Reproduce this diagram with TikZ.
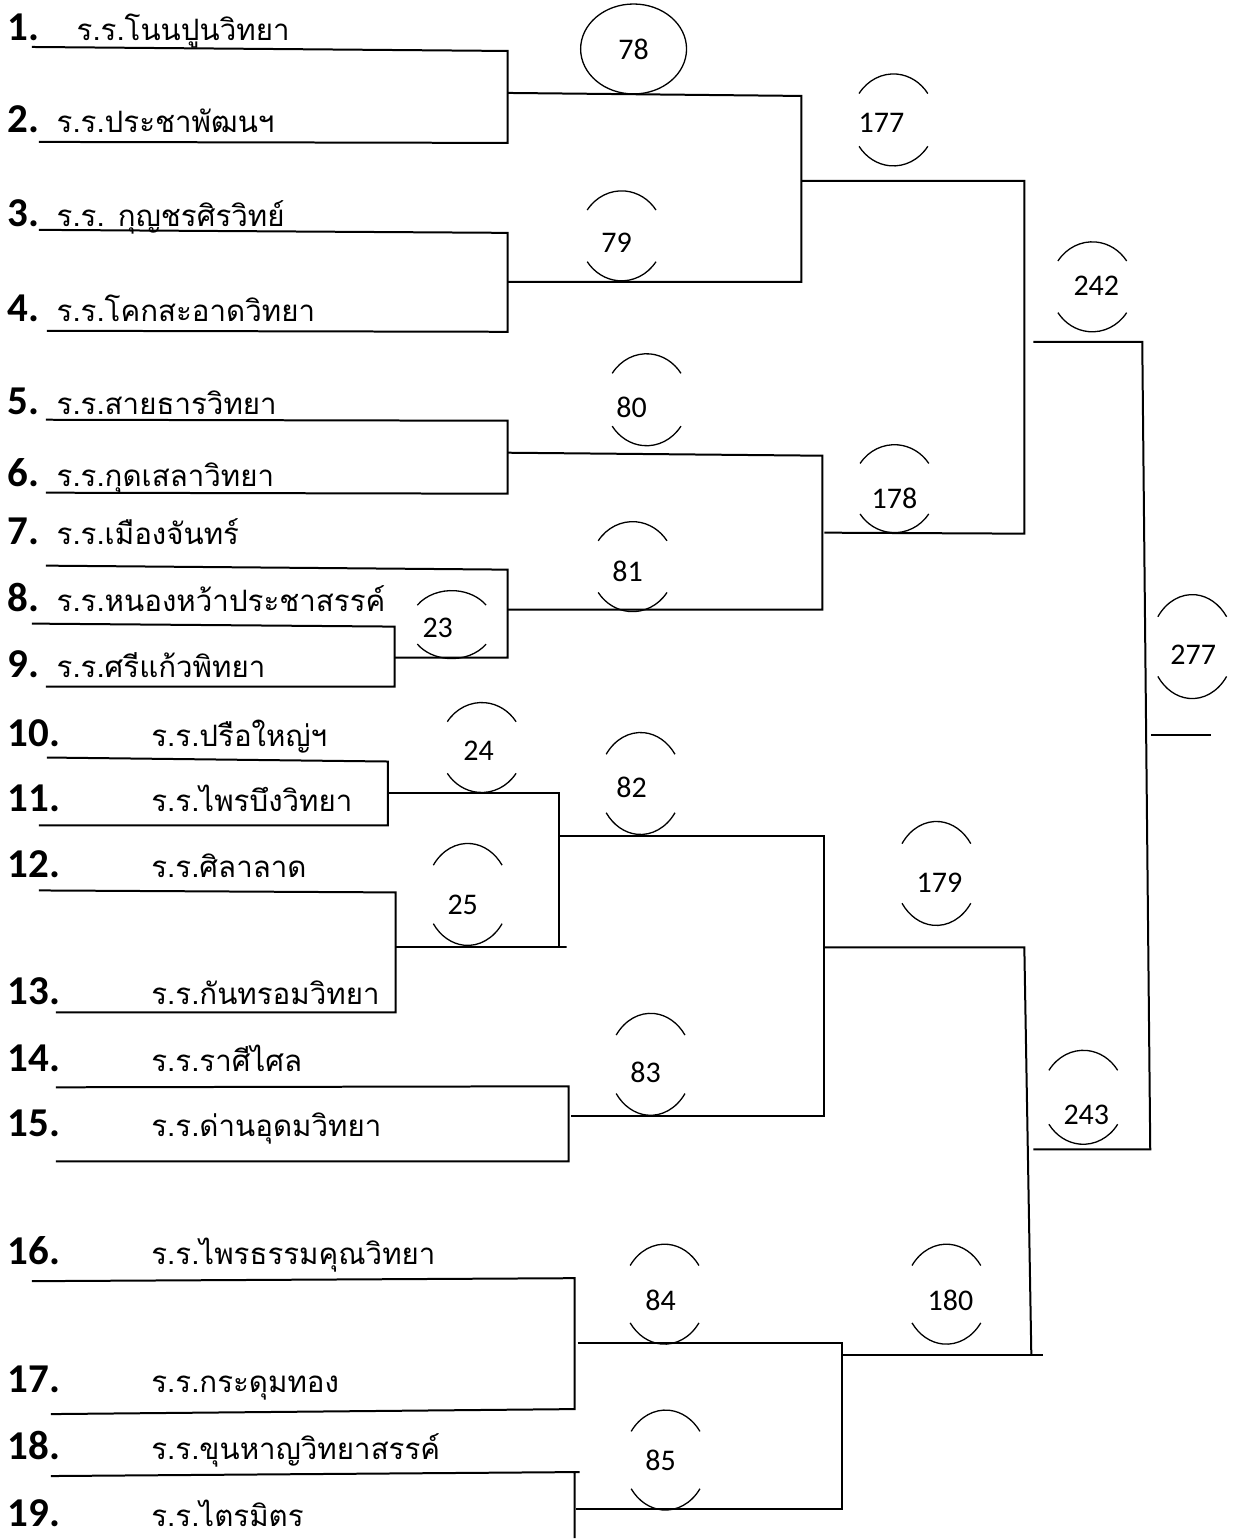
\documentclass[tikz,border=0pt]{standalone}
\usepackage{fontspec}
\setmainfont{Carlito}
\newfontfamily\thaifont[Script=Thai]{Loma}
\usetikzlibrary{positioning,calc,shapes.geometric}
\tikzset{
  base/.style={inner sep=0pt, outer sep=0pt, text=black},
  seed/.style={base, anchor=base west, font=\bfseries\fontsize{41}{46}\selectfont},
  school/.style={base, font=\thaifont\fontsize{29.5}{34}\selectfont},
  score/.style={base, font=\fontsize{30}{34}\selectfont},
  line/.style={draw=black, line width=2pt},
  arcline/.style={draw=black, line width=1.3pt},
  ring/.style n args={3}{append after command={\pgfextra{
    \draw[arcline] ($(\tikzlastnode.center)+({#2+34.4},{#3+0.574*#1})$) arc[start angle=35, end angle=145, x radius=42, y radius=#1];
    \draw[arcline] ($(\tikzlastnode.center)+({#2-34.4},{#3-0.574*#1})$) arc[start angle=215, end angle=325, x radius=42, y radius=#1];
  }}}
}

\begin{document}
\begin{tikzpicture}[x=1pt, y=-1pt]
  \path[fill=white] (0,0) rectangle (1240,1539);

  % Seeds and schools
  \node[seed] (n1) at (8,41) {1.};
  \node[school, base right=37pt of n1] (s1) {ร.ร.โนนปูนวิทยา};
  \node[seed] (n2) at (8,133) {2.};
  \node[school, base right=17pt of n2] (s2) {ร.ร.ประชาพัฒนฯ};
  \node[seed] (n3) at (8,227) {3.};
  \node[school, base right=17pt of n3] (s3) {ร.ร. กุญชรศิรวิทย์};
  \node[seed] (n4) at (8,322) {4.};
  \node[school, base right=17pt of n4] (s4) {ร.ร.โคกสะอาดวิทยา};
  \node[seed] (n5) at (8,415) {5.};
  \node[school, base right=17pt of n5] (s5) {ร.ร.สายธารวิทยา};
  \node[seed] (n6) at (8,487) {6.};
  \node[school, base right=17pt of n6] (s6) {ร.ร.กุดเสลาวิทยา};
  \node[seed] (n7) at (8,545) {7.};
  \node[school, base right=17pt of n7] (s7) {ร.ร.เมืองจันทร์};
  \node[seed] (n8) at (8,612) {8.};
  \node[school, base right=17pt of n8] (s8) {ร.ร.หนองหว้าประชาสรรค์};
  \node[seed] (n9) at (8,678) {9.};
  \node[school, base right=17pt of n9] (s9) {ร.ร.ศรีแก้วพิทยา};
  \node[seed] (n10) at (8,747) {10.};
  \node[school, base right=91pt of n10] (s10) {ร.ร.ปรือใหญ่ฯ};
  \node[seed] (n11) at (8,812) {11.};
  \node[school, base right=91pt of n11] (s11) {ร.ร.ไพรบึงวิทยา};
  \node[seed] (n12) at (8,878) {12.};
  \node[school, base right=91pt of n12] (s12) {ร.ร.ศิลาลาด};
  \node[seed] (n13) at (8,1005) {13.};
  \node[school, base right=91pt of n13] (s13) {ร.ร.กันทรอมวิทยา};
  \node[seed] (n14) at (8,1072) {14.};
  \node[school, base right=91pt of n14] (s14) {ร.ร.ราศีไศล};
  \node[seed] (n15) at (8,1137) {15.};
  \node[school, base right=91pt of n15] (s15) {ร.ร.ด่านอุดมวิทยา};
  \node[seed] (n16) at (8,1265) {16.};
  \node[school, base right=91pt of n16] (s16) {ร.ร.ไพรธรรมคุณวิทยา};
  \node[seed] (n17) at (8,1393) {17.};
  \node[school, base right=91pt of n17] (s17) {ร.ร.กระดุมทอง};
  \node[seed] (n18) at (8,1460) {18.};
  \node[school, base right=91pt of n18] (s18) {ร.ร.ขุนหาญวิทยาสรรค์};
  \node[seed] (n19) at (8,1527) {19.};
  \node[school, base right=91pt of n19] (s19) {ร.ร.ไตรมิตร};

  % Scores
  \node[score, ellipse, arcline, minimum width=106, minimum height=90] (w78) at (634,49) {78};
  \node[score, ring={45}{5}{-7}] (w79) at (617,243) {79};
  \node[score, ring={46}{15}{-8}] (w80) at (632,408) {80};
  \node[score, ring={45}{5}{-5}] (w81) at (628,572) {81};
  \node[score, ring={34}{14}{-3}] (w23) at (438,628) {23};
  \node[score, ring={45}{3}{-3}] (w24) at (479,751) {24};
  \node[score, ring={51}{5}{-10}] (w25) at (463,905) {25};
  \node[score, ring={51}{9}{-4}] (w82) at (632,788) {82};
  \node[score, ring={51}{5}{-8}] (w83) at (646,1073) {83};
  \node[score, ring={50}{4}{-6}] (w84) at (661,1301) {84};
  \node[score, ring={50}{5}{0}] (w85) at (661,1461) {85};
  \node[score, ring={46}{12}{-3}] (w177) at (882,123) {177};
  \node[score, ring={44}{0}{-10}] (w178) at (895,499) {178};
  \node[score, ring={52}{-3}{-9}] (w179) at (940,883) {179};
  \node[score, ring={50}{-4}{-6}] (w180) at (951,1301) {180};
  \node[score, ring={45}{-4}{1}] (w242) at (1097,286) {242};
  \node[score, ring={47}{-3}{-18}] (w243) at (1087,1116) {243};
  \node[score, ring={52}{-1}{-8}] (w277) at (1194,655) {277};

  % Line ends
  \coordinate (a1) at (32,47);    \coordinate (b1) at (508,51);
  \coordinate (a2) at (39,142);   \coordinate (b2) at (508,143);
  \coordinate (a3) at (39,230);   \coordinate (b3) at (508,233);
  \coordinate (a4) at (47,331);   \coordinate (b4) at (508,332);
  \coordinate (a5) at (46,420);   \coordinate (b5) at (508,421);
  \coordinate (a6) at (46,493);   \coordinate (b6) at (508,494);
  \coordinate (a7) at (46,566);   \coordinate (b7) at (508,570);
  \coordinate (a8) at (32,624);   \coordinate (b8) at (395,627);
  \coordinate (a9) at (46,687);   \coordinate (b9) at (395,687);
  \coordinate (a10) at (47,758);  \coordinate (b10) at (388,762);
  \coordinate (a11) at (39,826);  \coordinate (b11) at (388,826);
  \coordinate (a12) at (39,891);  \coordinate (b12) at (396,893);
  \coordinate (a13) at (56,1013); \coordinate (b13) at (396,1013);
  \coordinate (a14) at (56,1088); \coordinate (b14) at (569,1087);
  \coordinate (a15) at (56,1162); \coordinate (b15) at (569,1162);
  \coordinate (a16) at (32,1282); \coordinate (b16) at (575,1279);
  \coordinate (a17) at (51,1415); \coordinate (b17) at (575,1410);
  \coordinate (a18) at (51,1477); \coordinate (b18) at (580,1473);
  \coordinate (b19) at (575,1539);

  \coordinate (p78) at (508,93);    \coordinate (q78) at (802,96);
  \coordinate (p79) at (508,282);   \coordinate (q79) at (802,282);
  \coordinate (p80) at (508,453);   \coordinate (q80) at (823,456);
  \coordinate (p23) at (395,658);   \coordinate (q23) at (508,658);
  \coordinate (p81) at (508,610);   \coordinate (q81) at (823,610);
  \coordinate (p24) at (388,794);   \coordinate (q24) at (559,794);
  \coordinate (p25) at (396,948);   \coordinate (q25) at (567,948);
  \coordinate (p82) at (559,837);   \coordinate (q82) at (825,837);
  \coordinate (p83) at (571,1117);  \coordinate (q83) at (825,1117);
  \coordinate (p84) at (578,1344);  \coordinate (q84) at (843,1344);
  \coordinate (p85) at (576,1510);  \coordinate (q85) at (843,1510);
  \coordinate (p177) at (802,181);  \coordinate (q177) at (1025,181);
  \coordinate (p178) at (825,533);  \coordinate (q178) at (1025,534);
  \coordinate (p179) at (825,948);  \coordinate (q179) at (1025,948);
  \coordinate (p180) at (843,1356); \coordinate (q180) at (1044,1356);
  \coordinate (r180) at (1032,1356);
  \coordinate (p242) at (1034,342); \coordinate (q242) at (1143,342);
  \coordinate (p243) at (1034,1150); \coordinate (q243) at (1151,1150);
  \coordinate (p277) at (1152,735); \coordinate (q277) at (1212,735);

  % First round
  \draw[line] (a1) -- (b1) -- (b2) -- (a2);
  \draw[line] (a3) -- (b3) -- (b4) -- (a4);
  \draw[line] (a5) -- (b5) -- (b6) -- (a6);
  \draw[line] (a8) -- (b8) -- (b9) -- (a9);
  \draw[line] (a7) -- (b7) -- (q23) -- (p23);
  \draw[line] (a10) -- (b10) -- (b11) -- (a11);
  \draw[line] (a12) -- (b12) -- (b13) -- (a13);
  \draw[line] (a14) -- (b14) -- (b15) -- (a15);
  \draw[line] (a16) -- (b16) -- (b17) -- (a17);
  \draw[line] (a18) -- (b18) (b18 -| b19) -- (b19);

  % Later rounds
  \draw[line] (p78) -- (q78) -- (q79) -- (p79);
  \draw[line] (p80) -- (q80) -- (q81) -- (p81);
  \draw[line] (p24) -- (q24) |- (q25) -- (p25);
  \draw[line] (p82) -- (q82) -- (q83) -- (p83);
  \draw[line] (p84) -- (q84) -- (q85) -- (p85);
  \draw[line] (p177) -- (q177) -- (q178) -- (p178);
  \draw[line] (p179) -- (q179) -- (r180);
  \draw[line] (p180) -- (q180);
  \draw[line] (p242) -- (q242) -- (q243) -- (p243);
  \draw[line] (p277) -- (q277);
\end{tikzpicture}
\end{document}
